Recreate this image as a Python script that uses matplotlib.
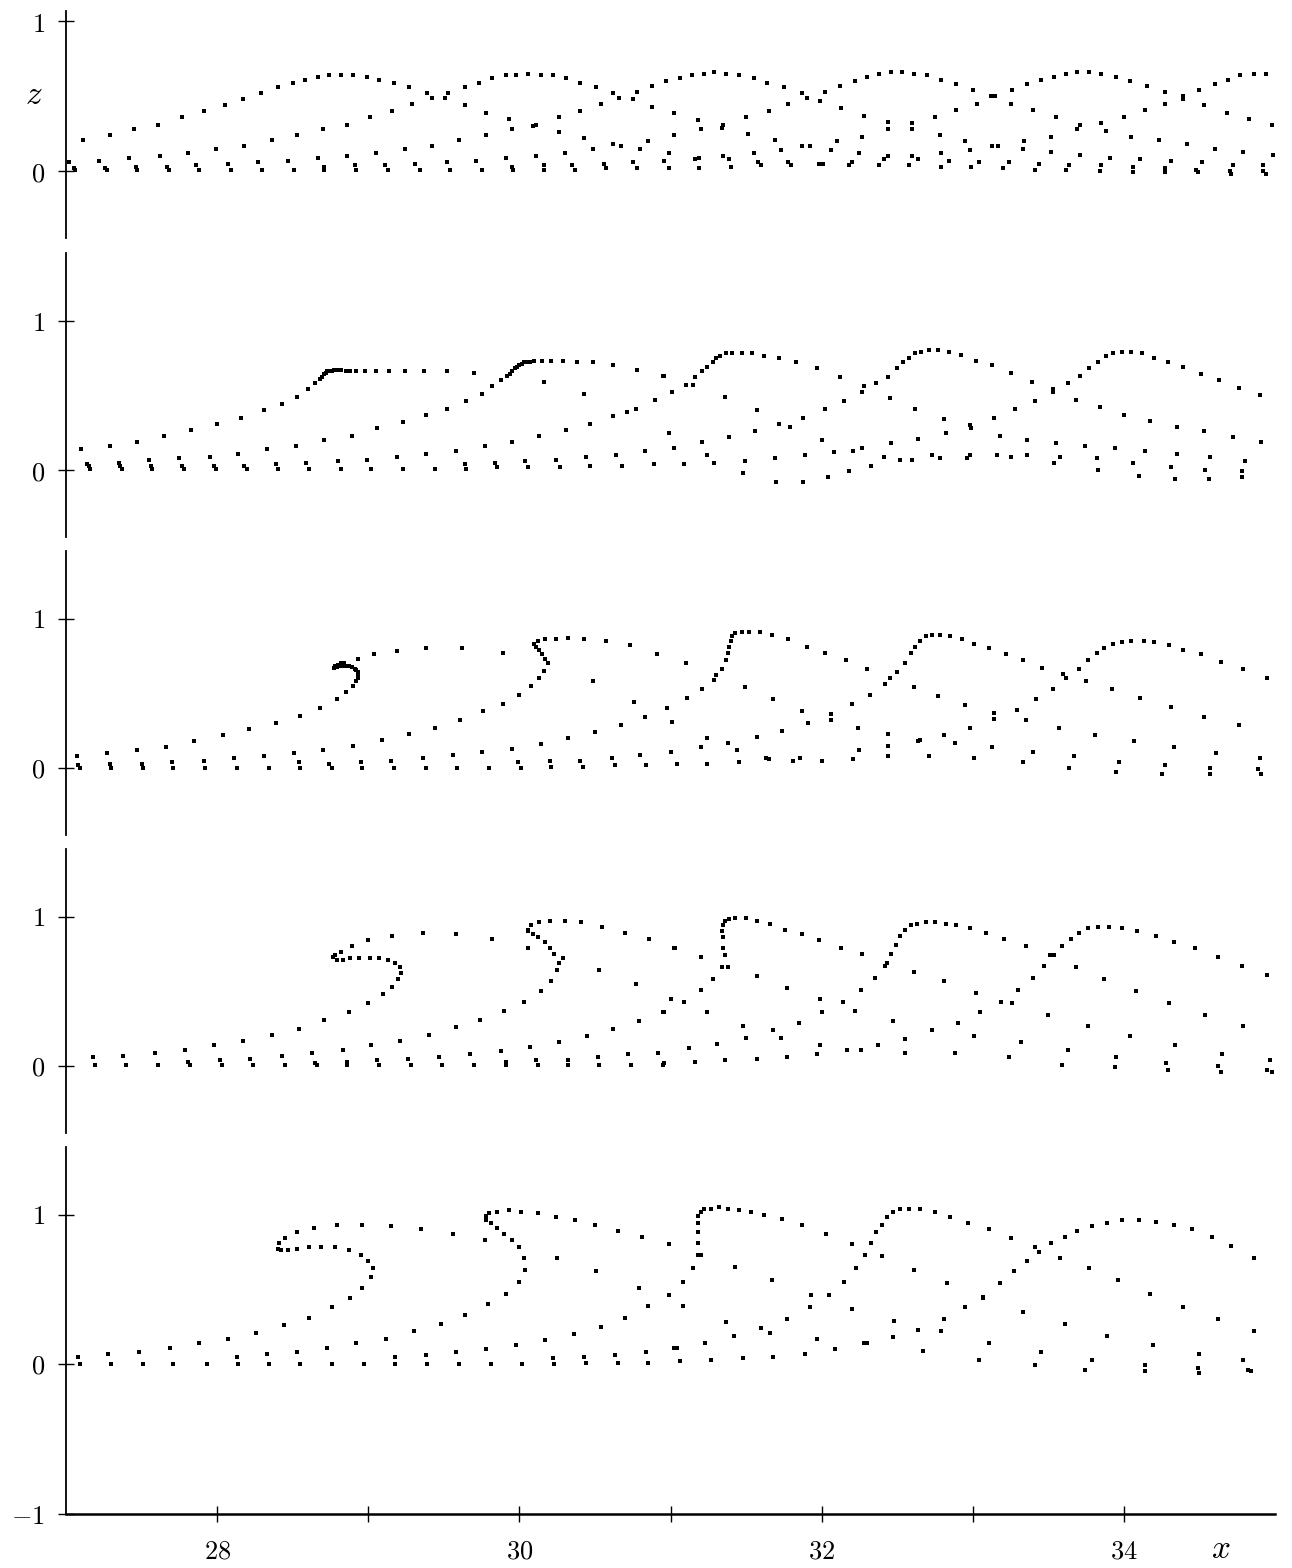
import numpy as np
import matplotlib.pyplot as plt

plt.rcParams['mathtext.fontset'] = 'cm'
plt.rcParams['font.family'] = 'serif'
plt.rcParams['font.serif'] = ['DejaVu Serif']

# ---------------- marker positions (x, z) ----------------
panel1 = [
    # left half
    (27.11, 0.21), (27.29, 0.24), (27.45, 0.28), (27.61, 0.31), (27.77, 0.36), (27.91, 0.40),
    (28.05, 0.44), (28.17, 0.48), (28.29, 0.52), (28.40, 0.56), (28.50, 0.59), (28.58, 0.61),
    (28.67, 0.63), (28.74, 0.64), (28.82, 0.64), (28.90, 0.64), (28.99, 0.63), (29.07, 0.61),
    (29.17, 0.59), (29.27, 0.56), (29.39, 0.52), (29.42, 0.49), (29.51, 0.49), (29.53, 0.52),
    (29.64, 0.56), (29.73, 0.59), (29.82, 0.62), (29.91, 0.64), (29.98, 0.64), (30.06, 0.65),
    (30.14, 0.64), (30.22, 0.64), (30.31, 0.62), (30.40, 0.59), (30.51, 0.56), (30.62, 0.52),
    (30.66, 0.49), (30.75, 0.48), (30.78, 0.53), (30.88, 0.57), (30.97, 0.60),
    (29.29, 0.45), (29.16, 0.40), (29.01, 0.36), (28.86, 0.31), (28.70, 0.28), (28.53, 0.24),
    (28.36, 0.21), (28.18, 0.17), (27.99, 0.15), (27.81, 0.12), (27.62, 0.10), (27.42, 0.09),
    (27.22, 0.07), (27.02, 0.06),
    (29.64, 0.44), (29.78, 0.39), (29.93, 0.35), (30.26, 0.36), (30.40, 0.40), (30.54, 0.45),
    (30.88, 0.43), (31.02, 0.39),
    (29.95, 0.28), (30.09, 0.30), (30.11, 0.31), (29.78, 0.24), (29.60, 0.21), (29.42, 0.17),
    (29.24, 0.15), (29.05, 0.12), (28.86, 0.10), (28.67, 0.09), (28.47, 0.07), (28.27, 0.06),
    (28.07, 0.05),
    (30.26, 0.26), (30.43, 0.22), (30.49, 0.15), (30.62, 0.18), (30.67, 0.17), (30.80, 0.15),
    (30.85, 0.20),
    (30.30, 0.12), (30.11, 0.10), (29.91, 0.09), (29.71, 0.07), (29.52, 0.06), (29.31, 0.05),
    (30.75, 0.06),
    (27.05, 0.02), (27.06, 0.01), (27.26, 0.02), (27.27, 0.01), (27.46, 0.03), (27.47, 0.01),
    (27.67, 0.03), (27.68, 0.01), (27.86, 0.04), (27.88, 0.01), (28.09, 0.01), (28.30, 0.01),
    (28.51, 0.01), (28.71, 0.03), (28.71, 0.01), (28.91, 0.04), (28.92, 0.01), (29.11, 0.04),
    (29.13, 0.01), (29.34, 0.01), (29.54, 0.01), (29.75, 0.01), (29.95, 0.03), (29.96, 0.01),
    (30.16, 0.04), (30.16, 0.01), (30.35, 0.04), (30.37, 0.01), (30.56, 0.05), (30.57, 0.02),
    (30.78, 0.02),
    # right half
    (31.06, 0.62), (31.14, 0.64), (31.22, 0.65), (31.29, 0.66), (31.37, 0.65), (31.45, 0.64),
    (31.55, 0.62), (31.64, 0.59), (31.75, 0.56), (31.87, 0.52), (31.90, 0.49), (31.99, 0.47),
    (32.02, 0.53), (32.12, 0.57), (32.22, 0.60), (32.30, 0.63), (32.38, 0.65), (32.46, 0.66),
    (32.53, 0.66), (32.61, 0.65), (32.70, 0.64), (32.79, 0.61), (32.89, 0.58), (33.00, 0.54),
    (33.12, 0.50), (33.15, 0.50), (33.26, 0.54), (33.36, 0.58), (33.45, 0.61), (33.54, 0.63),
    (33.62, 0.65), (33.69, 0.66), (33.77, 0.66), (33.85, 0.65), (33.95, 0.63), (34.04, 0.60),
    (34.15, 0.57), (34.27, 0.53), (34.39, 0.50), (34.39, 0.48), (34.50, 0.54), (34.60, 0.58),
    (34.69, 0.61), (34.77, 0.64), (34.86, 0.65), (34.94, 0.65),
    (31.18, 0.34), (31.20, 0.28), (31.34, 0.29), (31.35, 0.31), (31.50, 0.36), (31.65, 0.40),
    (31.78, 0.45), (32.13, 0.42), (32.28, 0.37), (32.44, 0.33), (32.44, 0.28), (32.60, 0.32),
    (32.60, 0.28), (32.75, 0.36), (32.89, 0.41), (33.03, 0.45), (33.25, 0.45), (33.40, 0.41),
    (33.55, 0.36), (33.71, 0.31), (33.69, 0.28), (33.85, 0.32), (33.88, 0.27), (34.00, 0.36),
    (34.14, 0.41), (34.27, 0.45), (34.53, 0.44), (34.68, 0.39), (34.83, 0.35), (34.98, 0.31),
    (31.02, 0.24), (31.51, 0.25), (31.69, 0.21), (31.73, 0.14), (31.87, 0.17), (31.92, 0.17),
    (32.06, 0.14), (32.10, 0.20), (32.27, 0.23), (32.78, 0.24), (32.95, 0.20), (32.98, 0.14),
    (33.13, 0.17), (33.17, 0.17), (33.33, 0.15), (33.34, 0.20), (33.52, 0.23), (34.05, 0.23),
    (34.23, 0.21), (34.42, 0.18), (34.60, 0.15), (34.79, 0.13), (34.99, 0.11),
    (30.99, 0.12), (30.96, 0.07), (31.16, 0.08), (31.19, 0.09), (31.35, 0.10), (31.39, 0.08),
    (31.55, 0.12), (31.58, 0.06), (32.25, 0.12), (32.20, 0.06), (32.41, 0.08), (32.44, 0.10),
    (32.60, 0.10), (32.64, 0.08), (32.79, 0.12), (32.84, 0.07), (33.04, 0.06), (33.24, 0.06),
    (33.44, 0.05), (33.52, 0.13), (33.71, 0.11), (33.91, 0.09), (34.11, 0.08), (34.31, 0.07),
    (34.52, 0.06), (34.72, 0.04), (34.92, 0.04),
    (30.99, 0.02), (31.19, 0.02), (31.40, 0.03), (31.60, 0.04), (31.78, 0.06), (31.80, 0.04),
    (31.98, 0.05), (32.01, 0.05), (32.18, 0.04), (32.38, 0.04), (32.58, 0.04), (32.79, 0.03),
    (32.99, 0.03), (33.20, 0.02), (33.41, 0.01), (33.62, 0.01), (33.64, 0.04), (33.84, 0.00),
    (33.85, 0.04), (34.06, -0.01), (34.06, 0.03), (34.27, -0.01), (34.27, 0.02), (34.49, -0.01),
    (34.48, 0.01), (34.71, -0.02), (34.70, 0.00), (34.94, -0.02), (34.92, 0.00),
]

panel2 = [
    (27.10, 0.14), (27.29, 0.16), (27.47, 0.19), (27.65, 0.23), (27.83, 0.27), (28.00, 0.31),
    (28.16, 0.35), (28.31, 0.40), (28.43, 0.44), (28.53, 0.49), (28.60, 0.54), (28.65, 0.58),
    (28.68, 0.61), (28.695, 0.625), (28.71, 0.64), (28.72, 0.65), (28.73, 0.66), (28.745, 0.663),
    (28.76, 0.66), (28.775, 0.667), (28.79, 0.67), (28.805, 0.667), (28.82, 0.67), (28.85, 0.665),
    (28.88, 0.66), (28.92, 0.66), (28.98, 0.66), (29.05, 0.66), (29.14, 0.66), (29.24, 0.66),
    (29.37, 0.66), (29.52, 0.66), (29.70, 0.65),
    (29.65, 0.46), (29.75, 0.51), (29.82, 0.56), (29.88, 0.60), (29.92, 0.63), (29.935, 0.645),
    (29.95, 0.66), (29.97, 0.68), (29.985, 0.69), (30.00, 0.70), (30.015, 0.71), (30.03, 0.72),
    (30.05, 0.72), (30.07, 0.72), (30.10, 0.73), (30.15, 0.73), (30.21, 0.73), (30.29, 0.73),
    (30.38, 0.72), (30.49, 0.72), (30.62, 0.70), (30.78, 0.67), (30.95, 0.63),
    (29.52, 0.41), (29.38, 0.37), (29.23, 0.32), (29.06, 0.28), (28.89, 0.23), (28.71, 0.20),
    (28.52, 0.16), (28.33, 0.14), (28.14, 0.11), (27.95, 0.09), (27.75, 0.08), (27.55, 0.07),
    (27.35, 0.05), (27.14, 0.04),
    (30.16, 0.59), (30.43, 0.51), (31.01, 0.52), (30.90, 0.47), (30.77, 0.41), (30.71, 0.39),
    (30.62, 0.36), (30.47, 0.31), (30.31, 0.27), (30.13, 0.23), (29.95, 0.19), (29.77, 0.16),
    (29.58, 0.13), (29.38, 0.11), (29.19, 0.09), (28.99, 0.07), (28.80, 0.06), (28.59, 0.05),
    (28.39, 0.04), (28.18, 0.03), (30.04, 0.06), (30.24, 0.07), (30.44, 0.09), (30.64, 0.10),
    (30.83, 0.13), (30.99, 0.25), (31.02, 0.15), (29.84, 0.05), (29.64, 0.04),
    (27.15, 0.03), (27.16, 0.01), (27.36, 0.03), (27.37, 0.01), (27.56, 0.03), (27.57, 0.01),
    (27.77, 0.03), (27.78, 0.01), (27.98, 0.03), (27.99, 0.01), (28.20, 0.01), (28.40, 0.01),
    (28.61, 0.01), (28.82, 0.01), (29.02, 0.01), (29.23, 0.01), (29.44, 0.01), (29.65, 0.01),
    (29.85, 0.02), (30.06, 0.02), (30.27, 0.02), (30.47, 0.03), (30.68, 0.03), (30.89, 0.04),
    # right half
    (30.96, 0.63), (31.01, 0.52), (31.10, 0.57), (31.15, 0.57), (31.16, 0.62), (31.21, 0.66),
    (31.24, 0.69), (31.28, 0.72), (31.30, 0.75), (31.33, 0.76), (31.37, 0.78), (31.41, 0.78),
    (31.47, 0.78), (31.54, 0.78), (31.62, 0.76), (31.72, 0.75), (31.83, 0.72), (31.97, 0.68),
    (32.12, 0.62), (32.27, 0.52), (32.28, 0.56), (32.36, 0.58), (32.44, 0.62), (32.50, 0.68),
    (32.54, 0.72), (32.58, 0.75), (32.62, 0.78), (32.66, 0.79), (32.71, 0.80), (32.77, 0.80),
    (32.84, 0.79), (32.92, 0.77), (33.02, 0.73), (33.13, 0.70), (33.25, 0.65), (33.39, 0.59),
    (33.53, 0.54), (33.53, 0.52), (33.63, 0.58), (33.71, 0.63), (33.77, 0.68), (33.83, 0.72),
    (33.88, 0.76), (33.93, 0.78), (33.99, 0.79), (34.05, 0.79), (34.12, 0.78), (34.20, 0.75),
    (34.29, 0.72), (34.39, 0.69), (34.51, 0.64), (34.63, 0.60), (34.76, 0.55), (34.90, 0.50),
    (31.36, 0.49), (31.57, 0.40), (31.72, 0.31), (31.79, 0.29), (31.88, 0.35), (32.02, 0.41),
    (32.15, 0.46), (32.45, 0.48), (32.62, 0.41), (32.81, 0.34), (32.82, 0.25), (32.98, 0.30),
    (32.99, 0.28), (33.14, 0.35), (33.28, 0.41), (33.41, 0.46), (33.68, 0.47), (33.84, 0.42),
    (34.00, 0.37), (34.17, 0.33), (34.35, 0.29), (34.53, 0.26), (34.72, 0.22), (34.91, 0.19),
    (30.99, 0.25), (31.02, 0.15), (31.21, 0.19), (31.39, 0.22), (31.56, 0.26), (32.00, 0.20),
    (32.08, 0.12), (32.21, 0.13), (32.27, 0.15), (32.46, 0.18), (32.64, 0.21), (33.18, 0.23),
    (33.36, 0.20), (33.55, 0.18), (33.74, 0.16), (33.94, 0.15), (34.14, 0.13), (34.35, 0.11),
    (34.57, 0.09), (34.80, 0.06),
    (31.09, 0.04), (31.24, 0.10), (31.29, 0.05), (31.49, 0.06), (31.48, -0.02), (31.69, 0.08),
    (31.70, -0.08), (31.89, 0.10), (31.88, -0.08), (32.04, -0.05), (32.18, -0.01), (32.33, 0.03),
    (32.41, 0.09), (32.52, 0.07), (32.60, 0.07), (32.73, 0.10), (32.78, 0.08), (32.96, 0.08),
    (32.98, 0.10), (33.16, 0.10), (33.25, 0.09), (33.36, 0.10), (33.54, 0.05), (33.58, 0.09),
    (33.82, 0.08), (33.83, 0.00), (34.06, 0.05), (34.10, -0.04), (34.31, 0.02), (34.34, -0.06),
    (34.54, 0.00), (34.56, -0.06), (34.78, -0.01), (34.78, -0.05),
]

panel3 = [
    (27.07, 0.08), (27.27, 0.10), (27.47, 0.12), (27.66, 0.14), (27.85, 0.18), (28.04, 0.22),
    (28.21, 0.26), (28.39, 0.30), (28.55, 0.35), (28.68, 0.40), (28.79, 0.46), (28.85, 0.51),
    (28.90, 0.55), (28.92, 0.58), (28.93, 0.60), (28.935, 0.62), (28.93, 0.64), (28.92, 0.655),
    (28.91, 0.665), (28.89, 0.675), (28.87, 0.68), (28.85, 0.683), (28.83, 0.683), (28.81, 0.68),
    (28.79, 0.675), (28.775, 0.67), (28.78, 0.685), (28.80, 0.69), (28.82, 0.70), (28.84, 0.705),
    (28.93, 0.73), (29.04, 0.76), (29.19, 0.78), (29.38, 0.80), (29.62, 0.80), (29.89, 0.77),
    (30.10, 0.83), (30.11, 0.81), (30.12, 0.85), (30.13, 0.79), (30.15, 0.76), (30.17, 0.73),
    (30.19, 0.70), (30.16, 0.65), (30.13, 0.60), (30.08, 0.55), (30.00, 0.49), (29.89, 0.43),
    (29.76, 0.38), (29.61, 0.32), (29.44, 0.27), (29.27, 0.23), (29.09, 0.19), (28.90, 0.15),
    (28.70, 0.12), (28.51, 0.10), (28.31, 0.08), (28.11, 0.07), (27.91, 0.05), (27.70, 0.04),
    (27.50, 0.03), (27.29, 0.03), (27.08, 0.02),
    (30.17, 0.86), (30.24, 0.86), (30.32, 0.87), (30.43, 0.86), (30.57, 0.85), (30.73, 0.82),
    (30.91, 0.76),
    (30.49, 0.58), (30.76, 0.44), (30.98, 0.40), (30.83, 0.34), (31.01, 0.31), (30.67, 0.29),
    (30.50, 0.24), (30.32, 0.20), (30.14, 0.16), (29.95, 0.13), (29.75, 0.11), (29.56, 0.09),
    (29.36, 0.07), (29.15, 0.05), (28.95, 0.04), (28.74, 0.03), (28.54, 0.04),
    (31.00, 0.11), (30.80, 0.09), (30.61, 0.07), (30.40, 0.05), (30.20, 0.05), (29.99, 0.04),
    (27.09, 0.00), (27.30, 0.00), (27.51, 0.00), (27.71, 0.00), (27.92, 0.00), (28.13, 0.00),
    (28.34, 0.00), (28.55, 0.00), (28.76, 0.00), (28.96, 0.00), (29.17, 0.00), (29.38, 0.00),
    (29.59, 0.00), (29.80, 0.00), (30.01, 0.00), (30.21, 0.01), (30.42, 0.01), (30.63, 0.02),
    (30.84, 0.02),
    # right half
    (30.98, 0.40), (31.11, 0.47), (31.21, 0.53), (31.29, 0.59), (31.30, 0.62), (31.34, 0.66),
    (31.37, 0.72), (31.38, 0.77), (31.39, 0.81), (31.40, 0.85), (31.41, 0.88), (31.43, 0.90),
    (31.47, 0.91), (31.52, 0.91), (31.59, 0.91), (31.67, 0.89), (31.78, 0.86), (31.90, 0.81),
    (32.02, 0.77), (32.16, 0.72), (32.30, 0.66), (32.32, 0.49), (32.42, 0.56), (32.45, 0.60),
    (32.50, 0.64), (32.55, 0.70), (32.59, 0.77), (32.62, 0.81), (32.65, 0.85), (32.69, 0.88),
    (32.73, 0.89), (32.78, 0.89), (32.85, 0.88), (32.93, 0.86), (33.01, 0.83), (33.11, 0.80),
    (33.22, 0.76), (33.33, 0.72), (33.46, 0.67), (33.60, 0.63), (33.62, 0.60), (33.70, 0.66),
    (33.76, 0.72), (33.82, 0.77), (33.87, 0.80), (33.93, 0.83), (33.99, 0.84), (34.05, 0.85),
    (34.13, 0.85), (34.20, 0.84), (34.30, 0.82), (34.39, 0.79), (34.51, 0.76), (34.64, 0.71),
    (34.79, 0.66), (34.95, 0.60),
    (31.10, 0.70), (31.49, 0.54), (31.68, 0.46), (31.87, 0.38), (31.91, 0.30), (32.06, 0.36),
    (32.06, 0.32), (32.20, 0.43), (32.61, 0.54), (32.77, 0.48), (32.95, 0.42), (33.14, 0.37),
    (33.14, 0.33), (33.29, 0.39), (33.35, 0.32), (33.42, 0.46), (33.53, 0.53), (33.75, 0.58),
    (33.92, 0.53), (34.11, 0.47), (34.31, 0.41), (34.53, 0.34), (34.76, 0.29),
    (31.01, 0.31), (31.24, 0.20), (31.38, 0.17), (31.44, 0.12), (31.57, 0.21), (31.74, 0.25),
    (32.24, 0.27), (32.44, 0.23), (32.44, 0.15), (32.64, 0.18), (32.65, 0.19), (32.81, 0.22),
    (32.88, 0.17), (32.98, 0.27), (33.13, 0.14), (33.40, 0.11), (33.57, 0.27), (33.81, 0.22),
    (34.07, 0.18), (34.33, 0.14), (34.61, 0.10), (34.90, 0.07),
    (31.00, 0.11), (31.04, 0.03), (31.20, 0.14), (31.24, 0.03), (31.45, 0.04), (31.63, 0.07),
    (31.65, 0.06), (31.81, 0.05), (31.86, 0.07), (32.00, 0.05), (32.21, 0.06), (32.25, 0.12),
    (32.44, 0.08), (32.71, 0.08), (33.01, 0.07), (33.33, 0.04), (33.64, 0.00), (33.67, 0.08),
    (33.95, -0.03), (33.97, 0.04), (34.25, -0.04), (34.27, 0.02), (34.57, -0.04), (34.57, 0.00),
    (34.91, -0.04), (34.89, -0.01),
]

panel4 = [
    (27.18, 0.06), (27.38, 0.07), (27.59, 0.09), (27.79, 0.11), (27.98, 0.14), (28.17, 0.17),
    (28.36, 0.21), (28.54, 0.25), (28.71, 0.31), (28.87, 0.36), (29.00, 0.42), (29.10, 0.48),
    (29.16, 0.53), (29.20, 0.58), (29.22, 0.62), (29.21, 0.66), (29.18, 0.69), (29.13, 0.71),
    (29.07, 0.72), (29.01, 0.72), (28.94, 0.72), (28.88, 0.72), (28.83, 0.71), (28.79, 0.71),
    (28.77, 0.73), (28.78, 0.74), (28.82, 0.76), (28.89, 0.80), (29.00, 0.84), (29.16, 0.87),
    (29.36, 0.89), (29.58, 0.88), (29.82, 0.85), (30.06, 0.79),
    (30.06, 0.91), (30.08, 0.94), (30.13, 0.96), (30.20, 0.97), (30.30, 0.97), (30.41, 0.96),
    (30.55, 0.93), (30.70, 0.89), (30.86, 0.85), (31.02, 0.79), (30.06, 0.90), (30.09, 0.88),
    (30.12, 0.86), (30.17, 0.83), (30.20, 0.79), (30.23, 0.75), (30.26, 0.69), (30.29, 0.72),
    (30.25, 0.64), (30.21, 0.57), (30.14, 0.50), (30.03, 0.43), (29.90, 0.37), (29.74, 0.31),
    (29.58, 0.26), (29.40, 0.21), (29.21, 0.17), (29.02, 0.14), (28.83, 0.11), (28.63, 0.09),
    (28.43, 0.07), (28.22, 0.05), (28.02, 0.04),
    (30.53, 0.64), (30.77, 0.55), (31.00, 0.45), (30.95, 0.36), (30.79, 0.30), (30.62, 0.25),
    (30.45, 0.20), (30.26, 0.16), (30.07, 0.13), (29.88, 0.10), (29.67, 0.08), (29.47, 0.06),
    (29.26, 0.05), (30.92, 0.09), (30.72, 0.08), (30.52, 0.06), (30.32, 0.04), (30.11, 0.04),
    (29.91, 0.03), (29.06, 0.04), (28.86, 0.03), (28.65, 0.02), (27.81, 0.03),
    (27.19, 0.01), (27.40, 0.01), (27.61, 0.01), (27.82, 0.01), (28.03, 0.01), (28.24, 0.01),
    (28.45, 0.01), (28.66, 0.01), (28.86, 0.01), (29.07, 0.01), (29.28, 0.01), (29.49, 0.01),
    (29.70, 0.01), (29.91, 0.01), (30.12, 0.01), (30.32, 0.01), (30.53, 0.01), (30.74, 0.01),
    (30.95, 0.01),
    # right half
    (31.03, 0.79), (31.20, 0.73), (31.28, 0.58), (31.34, 0.66), (31.38, 0.66), (31.36, 0.74),
    (31.35, 0.79), (31.35, 0.86), (31.34, 0.90), (31.35, 0.94), (31.36, 0.97), (31.39, 0.98),
    (31.43, 0.99), (31.50, 0.99), (31.57, 0.97), (31.66, 0.95), (31.76, 0.91), (31.87, 0.88),
    (31.98, 0.84), (32.13, 0.79), (32.27, 0.75), (32.35, 0.59), (32.42, 0.67), (32.43, 0.69),
    (32.46, 0.75), (32.49, 0.81), (32.52, 0.87), (32.55, 0.91), (32.59, 0.94), (32.63, 0.95),
    (32.69, 0.96), (32.75, 0.96), (32.82, 0.95), (32.89, 0.94), (32.98, 0.92), (33.09, 0.89),
    (33.21, 0.85), (33.35, 0.80), (33.47, 0.67), (33.51, 0.74), (33.54, 0.74), (33.59, 0.80),
    (33.65, 0.85), (33.70, 0.89), (33.76, 0.92), (33.83, 0.93), (33.90, 0.93), (33.99, 0.92),
    (34.09, 0.90), (34.21, 0.87), (34.33, 0.83), (34.47, 0.79), (34.62, 0.73), (34.78, 0.67),
    (34.95, 0.61),
    (31.57, 0.60), (31.77, 0.52), (31.99, 0.45), (32.00, 0.36), (32.14, 0.43), (32.22, 0.37),
    (32.26, 0.51), (32.61, 0.63), (32.81, 0.57), (33.02, 0.49), (33.19, 0.43), (33.26, 0.42),
    (33.05, 0.36), (33.30, 0.51), (33.40, 0.59), (33.68, 0.66), (33.87, 0.58), (34.08, 0.50),
    (34.30, 0.42), (34.54, 0.34), (34.79, 0.27),
    (31.00, 0.45), (31.09, 0.43), (30.96, 0.36), (31.20, 0.51), (31.24, 0.36), (31.48, 0.27),
    (31.50, 0.19), (31.68, 0.24), (31.73, 0.19), (31.85, 0.29), (31.99, 0.14), (32.17, 0.11),
    (32.26, 0.11), (32.37, 0.14), (32.47, 0.30), (32.55, 0.18), (32.73, 0.24), (32.90, 0.29),
    (33.01, 0.20), (33.32, 0.16), (33.50, 0.34), (33.76, 0.27), (34.04, 0.20), (34.34, 0.14),
    (34.65, 0.08), (34.97, 0.04),
    (31.12, 0.12), (30.96, 0.02), (31.16, 0.03), (31.31, 0.15), (31.36, 0.04), (31.57, 0.05),
    (31.77, 0.06), (31.97, 0.08), (32.55, 0.09), (32.88, 0.09), (33.24, 0.06), (33.59, 0.01),
    (33.63, 0.11), (33.94, -0.01), (33.95, 0.06), (34.28, 0.02), (34.29, -0.03), (34.62, 0.00),
    (34.64, -0.04), (34.95, -0.03), (34.98, -0.04),
]

panel5 = [
    (27.08, 0.05), (27.28, 0.07), (27.48, 0.08), (27.69, 0.11), (27.88, 0.14), (28.07, 0.17),
    (28.26, 0.21), (28.44, 0.26), (28.61, 0.31), (28.76, 0.38), (28.88, 0.44), (28.96, 0.51),
    (29.02, 0.58), (29.03, 0.64), (29.00, 0.69), (28.95, 0.73), (28.87, 0.76), (28.78, 0.78),
    (28.69, 0.78), (28.61, 0.78), (28.53, 0.77), (28.47, 0.76), (28.42, 0.76), (28.40, 0.77),
    (28.41, 0.81), (28.45, 0.84), (28.53, 0.88), (28.64, 0.91), (28.79, 0.93), (28.96, 0.93),
    (29.15, 0.92), (29.35, 0.90), (29.56, 0.87), (29.77, 0.83),
    (29.78, 0.96), (29.78, 0.99), (29.80, 1.01), (29.85, 1.02), (29.93, 1.03), (30.01, 1.02),
    (30.12, 1.01), (30.24, 0.98), (30.37, 0.96), (30.50, 0.93), (30.65, 0.89), (30.81, 0.85),
    (30.99, 0.80), (29.81, 0.94), (29.85, 0.91), (29.90, 0.87), (29.95, 0.83), (30.00, 0.78),
    (30.03, 0.71), (30.04, 0.63), (30.00, 0.55), (29.91, 0.47), (29.79, 0.40), (29.64, 0.33),
    (29.48, 0.27), (29.30, 0.22), (29.12, 0.17), (28.92, 0.14), (28.73, 0.11), (28.53, 0.08),
    (28.33, 0.07), (28.13, 0.05),
    (30.25, 0.71), (30.51, 0.62), (30.79, 0.51), (30.99, 0.46), (30.85, 0.39), (30.70, 0.31),
    (30.54, 0.25), (30.36, 0.20), (30.17, 0.16), (29.98, 0.13), (29.78, 0.10), (29.58, 0.08),
    (29.38, 0.06), (29.18, 0.05), (30.22, 0.04), (30.43, 0.05), (30.63, 0.06), (30.84, 0.08),
    (31.02, 0.11),
    (27.09, 0.00), (27.30, 0.00), (27.51, 0.00), (27.71, 0.00), (27.93, 0.00), (28.14, 0.00),
    (28.34, 0.00), (28.55, 0.00), (28.76, 0.00), (28.97, 0.00), (29.18, 0.00), (29.39, 0.00),
    (29.60, 0.00), (29.81, 0.00), (30.02, 0.00), (30.23, 0.00), (30.44, 0.01), (30.65, 0.01),
    (30.85, 0.01),
    # right half
    (31.08, 0.55), (31.15, 0.64), (31.18, 0.73), (31.20, 0.73), (31.18, 0.81), (31.18, 0.88),
    (31.18, 0.94), (31.18, 0.99), (31.20, 1.02), (31.22, 1.04), (31.27, 1.04), (31.32, 1.05),
    (31.38, 1.04), (31.45, 1.03), (31.53, 1.02), (31.62, 1.00), (31.74, 0.97), (31.87, 0.93),
    (32.03, 0.87), (32.20, 0.80), (32.29, 0.73), (32.33, 0.81), (32.36, 0.88), (32.40, 0.93),
    (32.43, 0.98), (32.47, 1.02), (32.52, 1.04), (32.58, 1.04), (32.65, 1.04), (32.75, 1.02),
    (32.85, 0.98), (32.97, 0.94), (33.11, 0.90), (33.25, 0.84), (33.41, 0.78), (33.44, 0.75),
    (33.52, 0.81), (33.61, 0.85), (33.69, 0.89), (33.79, 0.92), (33.89, 0.94), (33.99, 0.96),
    (34.10, 0.96), (34.21, 0.95), (34.33, 0.93), (34.45, 0.90), (34.58, 0.85), (34.71, 0.79),
    (34.86, 0.71),
    (31.43, 0.65), (31.67, 0.56), (31.93, 0.46), (32.05, 0.46), (31.92, 0.38), (32.20, 0.37),
    (32.15, 0.55), (32.23, 0.64), (32.40, 0.72), (32.61, 0.63), (32.83, 0.54), (33.07, 0.45),
    (33.07, 0.44), (33.18, 0.54), (33.27, 0.62), (33.36, 0.69), (33.58, 0.71), (33.77, 0.64),
    (33.96, 0.56), (34.17, 0.47), (34.39, 0.38), (34.62, 0.30), (34.86, 0.22),
    (31.08, 0.39), (31.37, 0.28), (31.42, 0.19), (31.60, 0.24), (31.66, 0.21), (31.77, 0.30),
    (31.97, 0.17), (32.09, 0.10), (32.28, 0.14), (32.30, 0.14), (32.47, 0.18), (32.48, 0.29),
    (32.64, 0.23), (32.79, 0.22), (32.81, 0.30), (32.95, 0.38), (33.11, 0.14), (33.33, 0.35),
    (33.61, 0.27), (33.89, 0.19), (34.19, 0.13), (34.50, 0.07), (34.79, 0.03),
    (31.04, 0.11), (31.06, 0.02), (31.23, 0.14), (31.27, 0.03), (31.48, 0.04), (31.68, 0.05),
    (31.89, 0.07), (32.67, 0.09), (33.04, 0.03), (33.41, -0.01), (33.45, 0.08), (33.74, -0.04),
    (33.79, 0.03), (34.14, -0.01), (34.14, -0.05), (34.49, -0.03), (34.50, -0.06), (34.82, -0.04),
    (34.84, -0.05),
]

panels = [panel1, panel2, panel3, panel4, panel5]

# ---------------- layout (pixel grid of the original figure) ----------------
W, H = 1292, 1568
zero_rows = [171, 470, 768, 1066, 1364]   # pixel row of z = 0 in each strip
px_per_unit = 149.5
left = 66 / W
width = (1275 - 66) / W

fig = plt.figure(figsize=(W / 100, H / 100), dpi=100)

for i, pts in enumerate(panels):
    lo = -1.0 if i == 4 else -0.5
    hi = 1.1 if i == 0 else 1.5
    y0 = zero_rows[i]
    bottom = 1 - (y0 - lo * px_per_unit) / H
    height = (hi - lo) * px_per_unit / H
    ax = fig.add_axes([left, bottom, width, height])
    ax.patch.set_visible(False)
    ax.set_xlim(27, 35)
    ax.set_ylim(lo, hi)

    xs, zs = np.array(pts).T
    ax.plot(xs, zs, 's', ms=2.4, mew=0, color='black', clip_on=False)

    ax.spines['top'].set_visible(False)
    ax.spines['right'].set_visible(False)
    ax.spines['left'].set_linewidth(1.3)
    if i == 0:
        ax.spines['left'].set_bounds(-0.45, 1.07)
    elif i == 4:
        ax.spines['left'].set_bounds(-1.0, 1.45)
    else:
        ax.spines['left'].set_bounds(-0.45, 1.45)

    yt = [-1, 0, 1] if i == 4 else [0, 1]
    ax.set_yticks(yt)
    ax.set_yticklabels(['$%d$' % v for v in yt])
    ax.tick_params(axis='y', direction='inout', length=12, width=1.0,
                   labelsize=19, pad=9)

    if i < 4:
        ax.spines['bottom'].set_visible(False)
        ax.set_xticks([])
    else:
        ax.spines['bottom'].set_linewidth(1.8)
        xt = list(range(28, 35))
        ax.set_xticks(xt)
        ax.set_xticklabels(['$%d$' % v if v % 2 == 0 else '' for v in xt])
        ax.tick_params(axis='x', direction='inout', length=12, width=1.0,
                       labelsize=19, pad=12)

fig.text(34 / W, 1 - 95 / H, '$z$', fontsize=24, ha='center', va='center')
fig.text(1221 / W, 1 - 1549 / H, '$x$', fontsize=24, ha='center', va='center')

fig.savefig('out.png', dpi=100)
